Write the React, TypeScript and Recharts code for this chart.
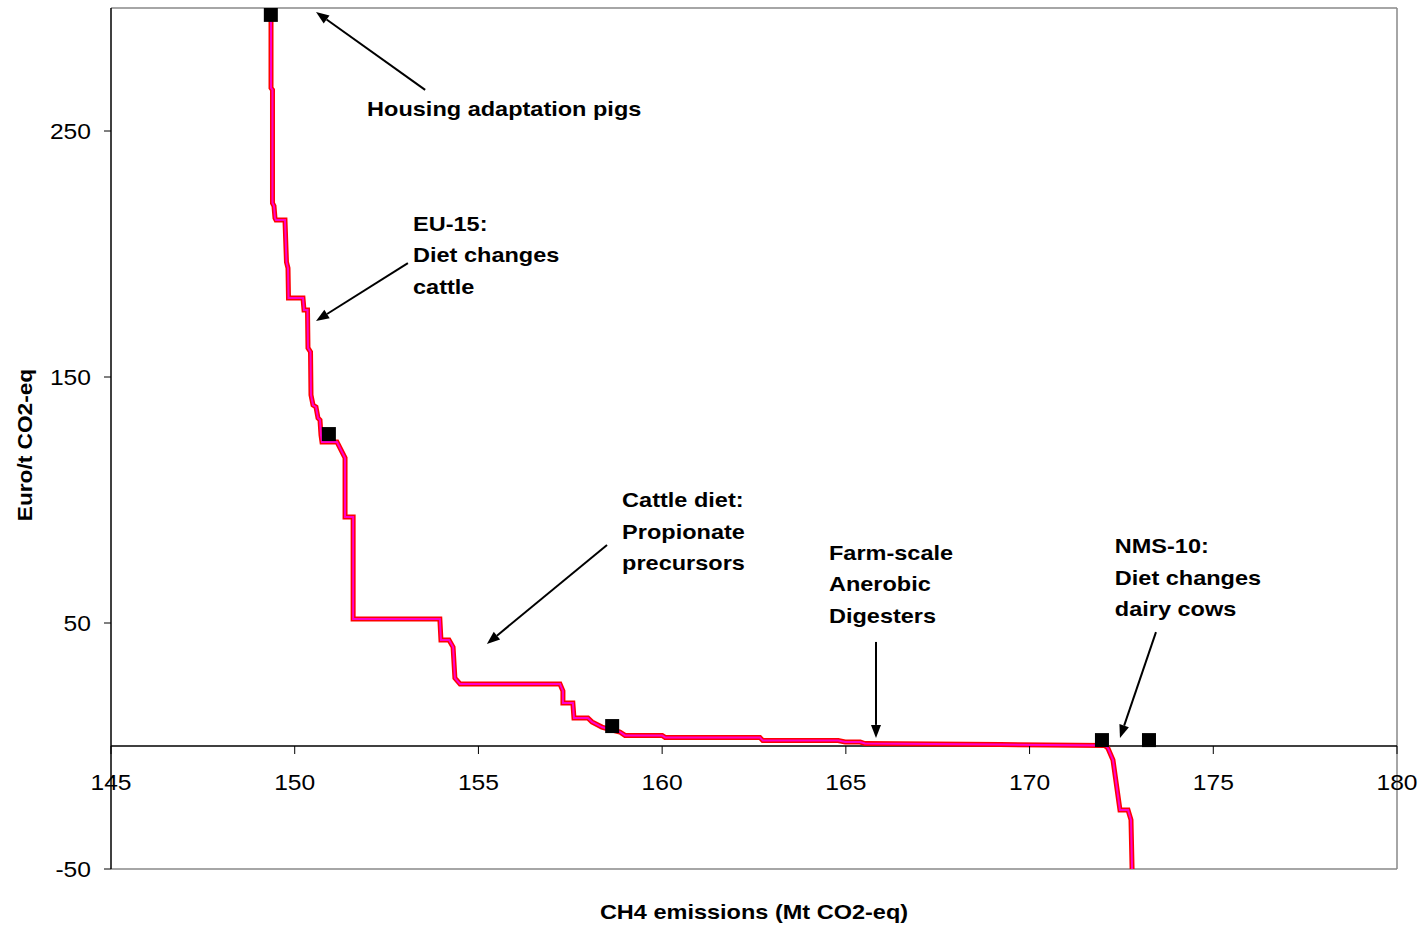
import React from 'react';
import {
  ComposedChart, Line, Scatter, XAxis, YAxis, ReferenceLine, ReferenceDot, Label,
} from 'recharts';

// marginal abatement cost curve, CH4
const curveX = [
  149.355, 149.355, 149.395, 149.395, 149.436, 149.463, 149.49, 149.735, 149.776, 149.817,
  149.831, 150.225, 150.253, 150.348, 150.361, 150.43, 150.443, 150.498, 150.579, 150.634,
  150.688, 150.715, 150.742, 151.15, 151.37, 151.37, 151.59, 151.59, 153.95, 153.98,
  154.2, 154.31, 154.36, 154.5, 157.22, 157.3, 157.3, 157.57, 157.6, 157.98,
  158.09, 158.36, 158.64, 158.85, 158.99, 160.0, 160.08, 162.66, 162.74, 164.79,
  164.98, 165.39, 165.52, 169.2, 172.05, 172.13, 172.27, 172.46, 172.68, 172.76, 172.79,
];
const curveY = [
  300, 267.5, 266.7, 220.7, 219.5, 214.6, 213.8, 213.8, 196.7, 194.3,
  182.1, 182.1, 177.2, 177.2, 161.8, 160.2, 142.7, 138.6, 137.8, 133.3,
  132.5, 126.4, 123.6, 123.6, 117.1, 93.1, 93.1, 51.6, 51.6, 43.1,
  43.1, 40.2, 27.6, 25.2, 25.2, 22.4, 17.5, 17.5, 11.4, 11.4,
  9.8, 7.7, 6.5, 5.7, 4.3, 4.3, 3.5, 3.5, 2.2, 2.2,
  1.6, 1.6, 1.0, 0.6, 0.2, -0.8, -5.7, -26, -26, -30, -50,
];

const markerX = [149.35, 150.93, 158.64, 171.97, 173.25];
const markerY = [297.2, 126.8, 8.1, 2.4, 2.4];

const xTicks = [145, 150, 155, 160, 165, 170, 175, 180];
const yTicks = [-50, 50, 150, 250];

// annotation text (first line position) and arrows (from -> to)
const notes = [
  { lines: ['Housing adaptation pigs'], x: 151.97, y: 259.3 },
  { lines: ['EU-15:', 'Diet changes', 'cattle'], x: 153.22, y: 212.6 },
  { lines: ['Cattle diet:', 'Propionate', 'precursors'], x: 158.91, y: 100.4 },
  { lines: ['Farm-scale', 'Anerobic', 'Digesters'], x: 164.54, y: 78.9 },
  { lines: ['NMS-10:', 'Diet changes', 'dairy cows'], x: 172.32, y: 81.7 },
];
const arrows = [
  { x1: 153.55, y1: 266.7, x2: 150.58, y2: 298.4 },
  { x1: 153.08, y1: 196.3, x2: 150.58, y2: 172.8 },
  { x1: 158.5, y1: 81.7, x2: 155.23, y2: 41.5 },
  { x1: 165.82, y1: 42.3, x2: 165.82, y2: 3.3 },
  { x1: 173.44, y1: 46.3, x2: 172.46, y2: 3.3 },
];

const curve = curveX.map((x, i) => ({ x, y: curveY[i] }));
const markers = markerX.map((x, i) => ({ x, y: markerY[i] }));

const X_MIN = 145, X_MAX = 180, Y_MIN = -50, Y_MAX = 300;
const W = 1423, H = 925;
const M = { top: 8, right: 26, bottom: 0, left: 0 };
const Y_AXIS_W = 111;
const X_AXIS_H = 56;
const PLOT_H = H - M.top - M.bottom - X_AXIS_H;
const ZERO_Y = M.top + PLOT_H * (Y_MAX - 0) / (Y_MAX - Y_MIN);

const FONT = '"Liberation Sans", Arial, sans-serif';
// the original text is slightly stretched horizontally
const SX = 1.12;

function StretchText({ x, y, anchor = 'start', size, bold, lines }: any) {
  return (
    <text transform={`translate(${x},${y}) scale(${SX},1)`} textAnchor={anchor} fontSize={size}
      fontWeight={bold ? 'bold' : 'normal'} fontFamily={FONT} fill="#000">
      {lines.map((l: string, i: number) => (
        <tspan key={i} x={0} dy={i === 0 ? 0 : 31.5}>{l}</tspan>
      ))}
    </text>
  );
}

function XTick(props: any) {
  const { x, payload } = props;
  return (
    <g>
      <line x1={x} x2={x} y1={ZERO_Y} y2={ZERO_Y + 8} stroke="#000" />
      <StretchText x={x} y={ZERO_Y + 44} anchor="middle" size={22} lines={[String(payload.value)]} />
    </g>
  );
}

function YTick(props: any) {
  const { x, y, payload } = props;
  return <StretchText x={x - 11} y={y + 8} anchor="end" size={22} lines={[String(payload.value)]} />;
}

function Arrow(props: any) {
  const { x1, y1, x2, y2 } = props;
  const a = Math.atan2(y2 - y1, x2 - x1);
  const len = 13, half = 5;
  const bx = x2 - len * Math.cos(a), by = y2 - len * Math.sin(a);
  const px = -Math.sin(a) * half, py = Math.cos(a) * half;
  return (
    <g>
      <line x1={x1} y1={y1} x2={bx} y2={by} stroke="#000" strokeWidth={2} />
      <polygon points={`${x2},${y2} ${bx + px},${by + py} ${bx - px},${by - py}`} fill="#000" />
    </g>
  );
}

function noteShape(lines: string[]) {
  return (props: any) => (
    <StretchText x={props.cx} y={props.cy + 8} size={21} bold lines={lines} />
  );
}

function MarkerSquare(props: any) {
  const { cx, cy } = props;
  return <rect x={cx - 7} y={cy - 7} width={14} height={14} fill="#000" />;
}

export default function App() {
  return (
    <div style={{ position: 'absolute', left: 0, top: 0, width: W, height: H, background: '#fff' }}>
      <ComposedChart width={W} height={H} margin={M}>
        <XAxis
          dataKey="x"
          type="number"
          domain={[X_MIN, X_MAX]}
          ticks={xTicks}
          allowDataOverflow
          axisLine={false}
          tickLine={false}
          tick={<XTick />}
          height={X_AXIS_H}
          interval={0}
        >
          <Label
            content={() => (
              <StretchText x={754} y={919} anchor="middle" size={21} bold lines={['CH4 emissions (Mt CO2-eq)']} />
            )}
          />
        </XAxis>
        <YAxis
          dataKey="y"
          type="number"
          domain={[Y_MIN, Y_MAX]}
          ticks={yTicks}
          allowDataOverflow
          width={Y_AXIS_W}
          axisLine={{ stroke: '#000', strokeWidth: 1.5 }}
          tickLine={{ stroke: '#000' }}
          tickSize={7}
          tick={<YTick />}
          interval={0}
        >
          <Label
            content={() => (
              <text transform="translate(32,445) rotate(-90) scale(1.08,1)" textAnchor="middle" fontSize={21}
                fontWeight="bold" fontFamily={FONT} fill="#000">Euro/t CO2-eq</text>
            )}
          />
        </YAxis>
        <ReferenceLine y={Y_MAX} stroke="#888" strokeWidth={1.5} />
        <ReferenceLine x={X_MAX} stroke="#888" strokeWidth={1.5} />
        <ReferenceLine y={Y_MIN} stroke="#888" strokeWidth={1.5} />
        <ReferenceLine y={0} stroke="#000" strokeWidth={1.5} />
        <Line data={curve} dataKey="y" type="linear" stroke="#ff0000" strokeWidth={5}
          dot={false} activeDot={false} isAnimationActive={false} />
        <Line data={curve} dataKey="y" type="linear" stroke="#ff00cc" strokeWidth={2}
          dot={false} activeDot={false} isAnimationActive={false} />
        <Scatter data={markers} dataKey="y" shape={<MarkerSquare />} isAnimationActive={false} />
        {arrows.map((a, i) => (
          <ReferenceLine key={`a${i}`} segment={[{ x: a.x1, y: a.y1 }, { x: a.x2, y: a.y2 }]}
            shape={Arrow} ifOverflow="visible" />
        ))}
        {notes.map((n, i) => (
          <ReferenceDot key={`n${i}`} x={n.x} y={n.y} r={0} shape={noteShape(n.lines)} ifOverflow="visible" />
        ))}
      </ComposedChart>
    </div>
  );
}
